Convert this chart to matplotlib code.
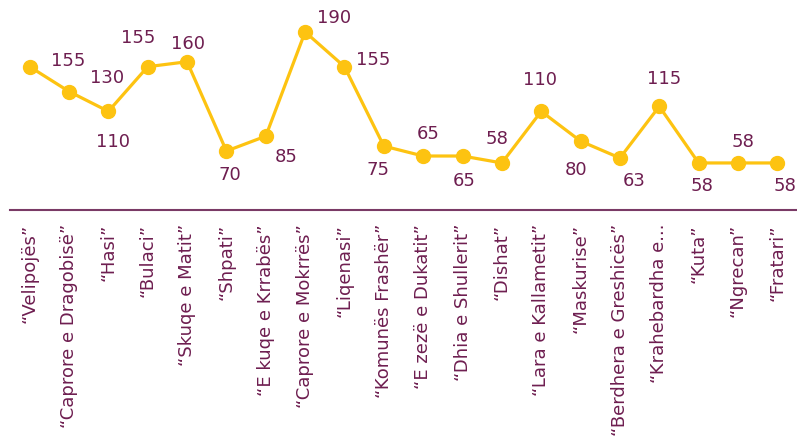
import matplotlib
matplotlib.use("Agg")
import matplotlib.pyplot as plt

categories = ["“Velipojës”", "“Caprore e Dragobisë”", "“Hasi”", "“Bulaci”", "“Skuqe e Matit”",
              "“Shpati”", "“E kuqe e Krrabës”", "“Caprore e Mokrrës”", "“Liqenasi”", "“Komunës Frashër”",
              "“E zezë e Dukatit”", "“Dhia e Shullerit”", "“Dishat”", "“Lara e Kallametit”", "“Maskurise”",
              "“Berdhera e Greshicës”", "“Krahebardha e...", "“Kuta”", "“Ngrecan”", "“Fratari”"]
values = [155, 130, 110, 155, 160, 70, 85, 190, 155, 75, 65, 65, 58, 110, 80, 63, 115, 58, 58, 58]

# label offsets (pixels) relative to each point, as placed in the reference
label_dx = [39, 38, 5, -10, 1, 3, 20, 29, 29, -6, 5, 2, -5, -1, -5, 14, 5, 3, 5, 8]
label_dy = [6, 14, -31, 29, 18, -24, -21, 14, 7, -24, 22, -25, 24, 31, -29, -23, 27, -23, 21, -23]

yellow = "#FDC311"
purple = "#6E1E50"

plt.rcParams['font.family'] = ['DejaVu Sans']

fig = plt.figure(figsize=(7.97, 4.40), dpi=100)
ax = fig.add_axes([10/797, 230/440, 787/797, 210/440])
x = list(range(len(values)))
ax.plot(x, values, color=yellow, lw=2.3, marker='o', ms=10, mec=yellow, mfc=yellow, zorder=3, clip_on=False)
for i, v in enumerate(values):
    ax.annotate(str(v), (i, v), xytext=(label_dx[i], label_dy[i]), textcoords='offset pixels',
                ha='center', va='center', fontsize=13, color=purple)

ax.set_xlim(-0.5, len(values) - 0.5)
ax.set_ylim(10.6, 222.2)
ax.set_xticks(x)
ax.set_xticklabels(categories, rotation=90, fontsize=13, color=purple, va='top', ha='center')
ax.tick_params(axis='x', length=0, pad=10)
ax.set_yticks([])
for s in ['top', 'left', 'right']:
    ax.spines[s].set_visible(False)
ax.spines['bottom'].set_color("#7A3A66")
ax.spines['bottom'].set_linewidth(1.5)
ax.patch.set_alpha(0)

fig.savefig("out.png", dpi=100)
